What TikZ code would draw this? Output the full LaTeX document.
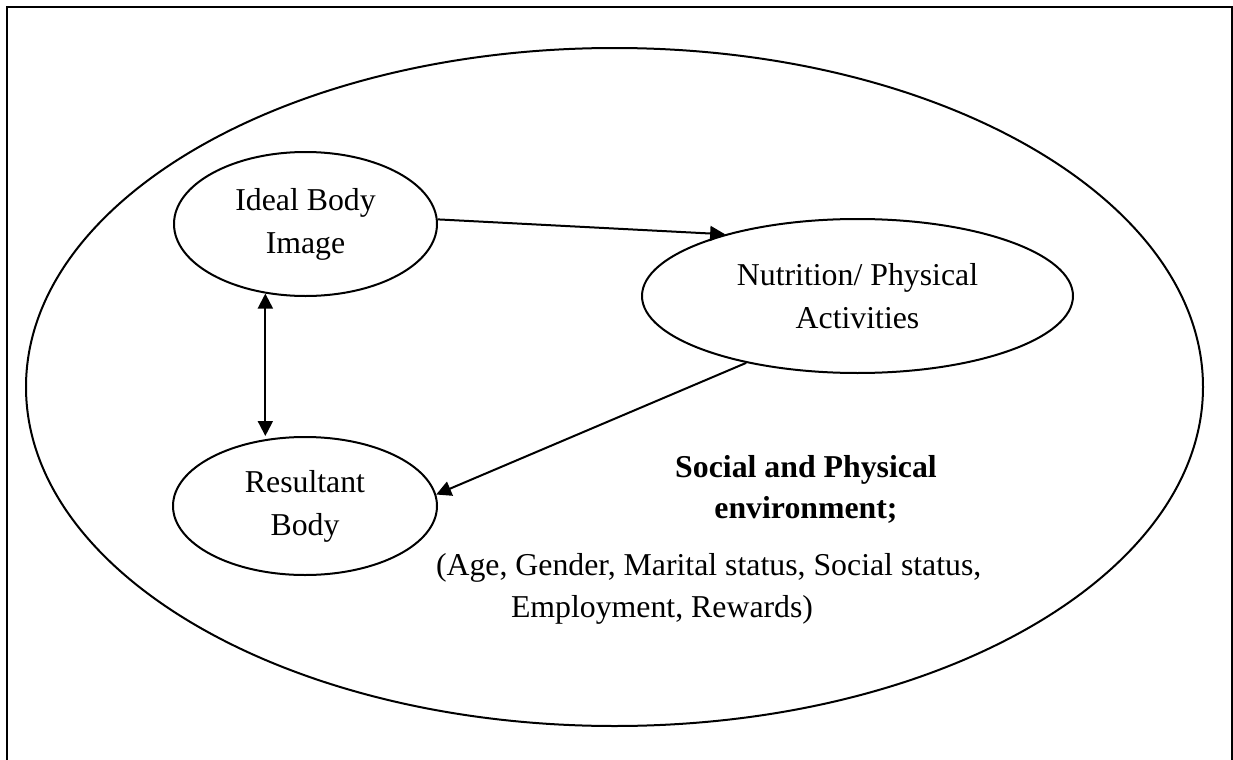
\documentclass[tikz,border=0pt]{standalone}
\usepackage{fontspec}
\setmainfont{Liberation Serif}
\usetikzlibrary{arrows.meta,shapes.geometric}

\begin{document}
\begin{tikzpicture}
		[x=0.5pt,y=-0.5pt,line width=1pt,
		blob/.style={ellipse,draw,inner sep=0pt,align=center,font=\fontsize{15.9}{21.5}\selectfont},
		txt/.style={draw=none,fill=none,inner sep=0pt,font=\fontsize{15.9}{21}\selectfont},
		head/.tip={Triangle[length=7.5pt,width=7.5pt]}]
		\useasboundingbox (0,0) rectangle (1233,760);
		\clip (0,0) rectangle (1233,760);
		\draw (7,7) rectangle (1231.5,790);
		
		\node[blob,minimum width=588.5pt,minimum height=339pt] (env) at (614.5,387) {};
		\node[blob,minimum width=131.5pt,minimum height=72pt] (ideal) at (305.5,224) {Ideal Body\\Image};
		\node[blob,minimum width=215.5pt,minimum height=77pt] (nutr) at (857.5,296) {Nutrition/ Physical\\Activities};
		\node[blob,minimum width=132pt,minimum height=69pt] (res) at (305,506) {Resultant\\Body};
		
		\node[txt,align=center,font=\fontsize{15.9}{20.5}\selectfont\bfseries] (soc) at (806,489) {Social and Physical\\environment;};
		\node[txt,anchor=base west] (age) at (435,575) {(Age, Gender, Marital status, Social status,};
		\node[txt,anchor=base west] (emp) at (510,617) {Employment, Rewards)};
		
		\draw[-head] (ideal.2) to (nutr.155);
		\draw[-head] (nutr.211) to (res.5);
		\draw[head-head] (ideal.240) to (ideal.240 |- res.north);
		\end{tikzpicture}
\end{document}
